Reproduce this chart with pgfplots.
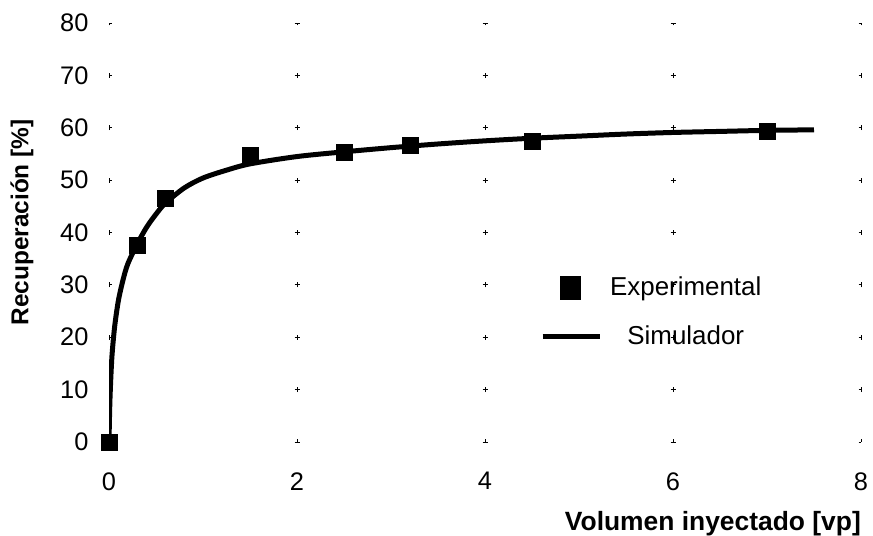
\documentclass[border=0pt]{standalone}
\usepackage{fontspec}
\setmainfont{Liberation Sans}
\usepackage{pgfplots}
\pgfplotsset{compat=1.18}
\begin{document}
\begin{tikzpicture}
\begin{axis}[
  at={(109bp,94bp)}, anchor=south west,
  scale only axis, width=752bp, height=419bp,
  xmin=0, xmax=8, ymin=0, ymax=80,
  xtick={0,2,4,6,8}, ytick={0,10,...,80},
  axis line style={draw=none},
  major tick length=0pt,
  /pgf/number format/assume math mode=true,
  ticklabel style={font=\fontsize{25.5}{30}\selectfont},
  xticklabel style={yshift=-27bp},
  yticklabel style={xshift=-17bp},
  grid=major,
  x grid style={black, line width=0.8bp, dash pattern=on 5bp off 47.375bp, dash phase=2.5bp},
  y grid style={black, line width=0.8bp, dash pattern=on 5bp off 183bp, dash phase=2.5bp},
  xlabel={Volumen inyectado [vp]},
  ylabel={Recuperación [\%]},
  xlabel style={font=\bfseries\fontsize{26.5}{31}\selectfont, at={(axis description cs:1,0)}, anchor=base east, yshift=-88bp, inner sep=0pt},
  ylabel style={font=\bfseries\fontsize{24.5}{29}\selectfont, at={(axis description cs:-0.1157,0.524)}, anchor=center, rotate=0},
  legend style={at={(axis cs:4.585,31.8)}, anchor=north west, draw=none, fill=none,
    font=\fontsize{26}{31}\selectfont, row sep=27bp, inner sep=0pt,
    nodes={inner sep=0pt}, /tikz/every odd column/.append style={column sep=8bp}},
  legend cell align=center,
  legend columns=1,
]
\addplot[black, line width=5bp, smooth, forget plot] coordinates {
(0,0) (0.01,8) (0.03,16) (0.06,22) (0.1,27) (0.15,31) (0.2,34) (0.3,37.8) (0.4,41)
(0.5,43.5) (0.6,45.6) (0.8,48.5) (1.0,50.4) (1.25,51.9) (1.5,53.1) (2,54.5)
(2.5,55.4) (3,56.2) (3.5,56.9) (4,57.5) (4.5,58) (5,58.4) (5.5,58.8) (6,59.1)
(6.5,59.3) (7,59.5) (7.5,59.6)};
\addplot[black, only marks, mark=square*, mark size=8bp,
  legend image code/.code={\fill[black] (18bp,-11.5bp) rectangle (38bp,11.5bp);}]
 coordinates {(0,0) (0.3,37.5) (0.6,46.5) (1.5,54.8) (2.5,55.4) (3.2,56.6) (4.5,57.5) (7,59.4)};
\addlegendentry{Experimental}
\addlegendimage{black, line width=5bp, legend image code/.code={\draw[black, line width=5bp] (0bp,0bp) -- (57bp,0bp);}}
\addlegendentry{Simulador}
\end{axis}
\pgfresetboundingbox
\path (0,0) rectangle (873bp,536bp);
\end{tikzpicture}
\end{document}
